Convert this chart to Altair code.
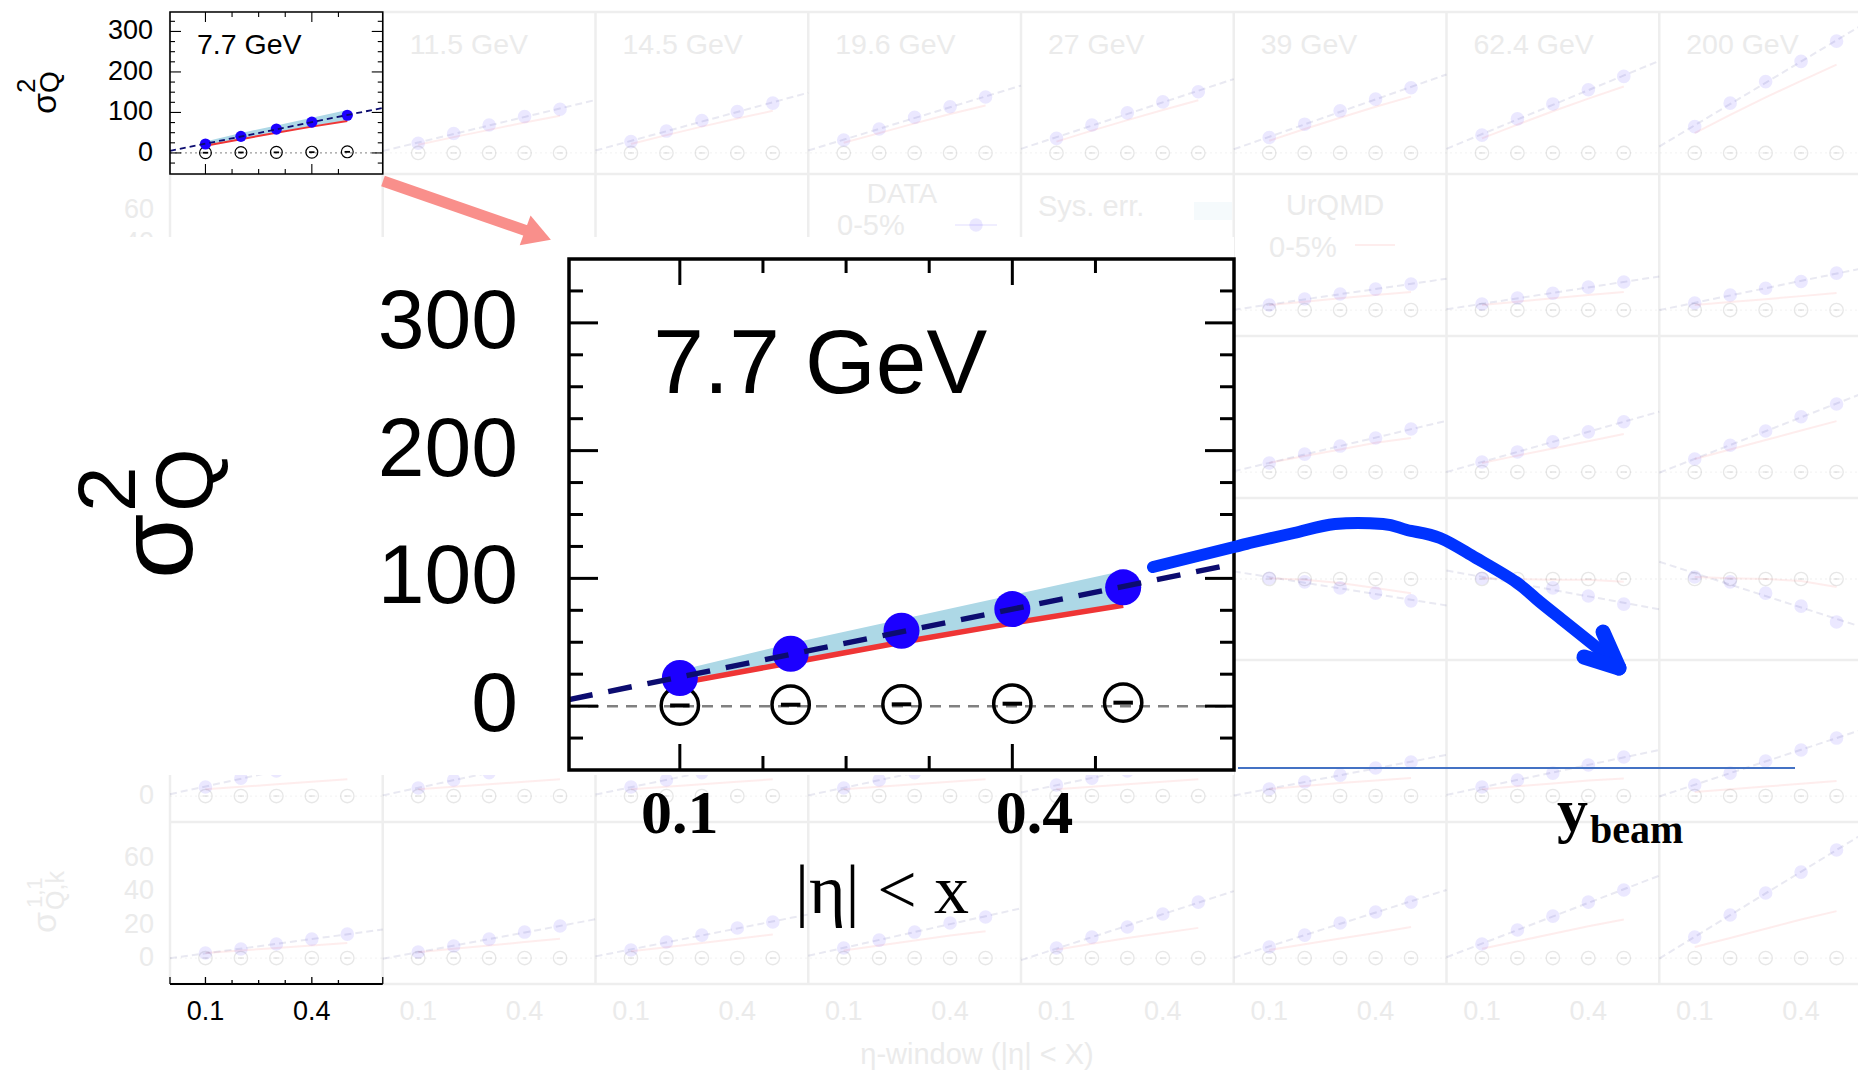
import altair as alt
import pandas as pd

# ------------------------------------------------------------------ data
ETA = [0.1, 0.2, 0.3, 0.4, 0.5]
ENERGY_LABELS = ["7.7 GeV", "11.5 GeV", "14.5 GeV", "19.6 GeV",
                 "27 GeV", "39 GeV", "62.4 GeV", "200 GeV"]

# row 1: sigma^2_Q (DATA 0-5 %), one list per energy
SIG2_DATA = [
    [22, 41, 59, 76, 93],
    [24, 48, 69, 90, 108],
    [28, 54, 80, 102, 123],
    [32, 59, 88, 114, 138],
    [36, 69, 99, 126, 151],
    [38, 71, 104, 133, 161],
    [44, 84, 121, 156, 189],
    [65, 123, 176, 226, 276],
]
SIG2_URQMD = [
    [18, 34, 50, 65, 79],
    [20, 39, 57, 75, 92],
    [22, 44, 65, 85, 104],
    [25, 49, 73, 96, 117],
    [28, 55, 81, 106, 130],
    [30, 59, 87, 114, 139],
    [36, 70, 103, 134, 164],
    [49, 94, 137, 178, 218],
]
SIG2_77_SYS_LO = [19, 35, 51, 66, 80]
SIG2_77_SYS_HI = [28, 49, 68, 87, 106]
SIG2_77_OPEN = [0.5, 1.1, 1.4, 1.9, 2.7]
OPEN_FADED = [0, 0, 0, 0, 0]

# faded rows 2-6 (only the panels that remain visible)
ROW2_COLS = [5, 6, 7]
ROW2_DATA = [[3.0, 6.6, 9.6, 12.5, 15.5],
             [3.6, 7.2, 10.0, 13.7, 16.7],
             [4.2, 9.0, 13.0, 17.0, 22.0]]
ROW2_URQMD = [[3.0, 5.0, 7.0, 9.0, 10.7],
              [3.0, 5.0, 7.0, 9.0, 10.7],
              [3.0, 4.8, 6.5, 8.3, 10.1]]
ROW3_COLS = [5, 6, 7]
ROW3_DATA = [[5.4, 10.7, 15.5, 20.3, 25.7],
             [6.0, 12.0, 18.0, 24.0, 30.0],
             [7.8, 16.0, 24.5, 33.0, 40.6]]
ROW3_URQMD = [[5.4, 9.6, 13.5, 17.5, 20.3],
              [5.4, 9.8, 14.1, 18.4, 22.7],
              [7.8, 13.5, 19.1, 24.8, 30.4]]
ROW4_COLS = [5, 6, 7]
ROW4_DATA = [[0.02, -0.07, -0.22, -0.35, -0.54],
             [0.02, -0.10, -0.22, -0.42, -0.62],
             [0.05, -0.07, -0.35, -0.67, -1.06]]
ROW4_URQMD = [[0.02, -0.02, -0.10, -0.22, -0.35],
              [0.02, 0.00, -0.02, -0.02, -0.07],
              [0.05, 0.02, 0.00, -0.05, -0.20]]
ROW5_COLS = [0, 1, 2, 3, 4, 5, 6, 7]
ROW5_DATA = [[5.4, 10.7, 15.0, 19.5, 24.0],
             [4.8, 9.6, 14.0, 18.5, 23.0],
             [5.4, 9.6, 14.0, 18.5, 23.0],
             [4.8, 9.6, 14.0, 18.5, 23.0],
             [6.6, 10.7, 15.0, 19.5, 24.0],
             [4.2, 8.4, 12.5, 16.7, 20.3],
             [5.4, 9.6, 13.7, 18.5, 23.3],
             [6.6, 13.7, 20.9, 27.5, 34.6]]
ROW5_URQMD = [[4.0, 5.5, 7.0, 8.5, 10.0],
              [4.0, 5.5, 7.0, 8.5, 10.0],
              [4.0, 5.5, 7.0, 8.5, 10.0],
              [4.0, 5.5, 7.0, 8.5, 10.0],
              [4.0, 5.5, 7.0, 8.5, 10.0],
              [4.2, 6.0, 7.8, 9.3, 10.7],
              [4.0, 5.8, 7.5, 9.2, 10.5],
              [2.4, 4.0, 5.7, 7.3, 9.0]]
ROW6_COLS = [0, 1, 2, 3, 4, 5, 6, 7]
ROW6_DATA = [[3.0, 5.4, 8.4, 11.3, 14.3],
             [3.6, 7.2, 11.3, 15.5, 19.1],
             [4.8, 9.6, 13.7, 17.9, 21.5],
             [6.0, 10.7, 15.5, 20.9, 24.5],
             [6.0, 12.5, 18.5, 26.3, 33.4],
             [6.6, 13.7, 20.9, 27.5, 33.4],
             [8.4, 16.7, 25.0, 33.4, 40.6],
             [12.5, 25.7, 38.8, 51.3, 64.5]]
ROW6_URQMD = [[3.0, 4.5, 6.0, 7.5, 9.0],
              [3.5, 5.5, 7.5, 9.5, 11.5],
              [4.0, 6.5, 9.0, 11.5, 14.0],
              [4.5, 7.5, 10.5, 13.5, 16.0],
              [5.0, 8.5, 12.0, 15.0, 18.0],
              [4.8, 8.2, 11.6, 15.0, 18.5],
              [5.5, 10.0, 14.5, 19.0, 23.0],
              [6.6, 12.0, 17.5, 23.0, 28.0]]

Y_TICKS = [-25, 0, 25, 50, 75, 100, 125, 150, 175, 200, 225, 250, 275, 300, 325]
Y_MAJOR = [0, 100, 200, 300]
Y_MAJOR_LABELS = ["0", "100", "200", "300"]
X_TICKS = [0.1, 0.175, 0.25, 0.325, 0.4, 0.475]
X_MAJOR = [0.1, 0.4]
X_MAJOR_LABELS = ["0.1", "0.4"]
BIG_XLABEL_AT = [0.1, 0.42]
SIDE_TICKS = [0, 20, 40, 60]
SIDE_TICK_LABELS = ["0", "20", "40", "60"]

# ------------------------------------------------------------------ layout (page px)
OFF = 8
W, H = 1850, 1064
COL_LEFT = 170.0
COL_W = 212.75
NCOL = 8
ROW_TOPS = [12, 174, 336, 498, 660, 822]
ROW_H = 162
GRID_BOTTOM = 984
ROW_Y_DOMAINS = [[-52, 348], [-15.5, 81.2], [-15.5, 81.2], [-2.0, 2.0],
                 [-15.5, 81.2], [-15.5, 81.2]]
BIG_BOX = (569, 1234, 259, 770)
E_LABEL_AT = (0.076, 245)
MASK = (0, 1234, 237, 775)

RED_ARROW_X = [383, 527]
RED_ARROW_Y = [181, 231]
RED_HEAD_AT = (538, 235)
BLUE_CURVE_X = [1153, 1234, 1254, 1294, 1335, 1383, 1407, 1440, 1476, 1516, 1540, 1565, 1590, 1612]
BLUE_CURVE_Y = [567, 547, 542, 533, 524, 524, 530, 538, 558, 582, 602, 622, 642, 660]
BLUE_HEAD_X = [1603, 1619, 1584, 1619]
BLUE_HEAD_Y = [632, 668, 657, 668]
BLUE_HEAD_SEG = [0, 0, 1, 1]
BEAM_LINE_X = [1238, 1795]
BEAM_LINE_Y = 768

BLUE = "#1c00ff"
NAVY = "#0c0c70"
RED = "#ef3535"
SYS = "#add8e6"
SALMON = "#f98f8b"
ARROW_BLUE = "#0033ff"
BEAM_COLOR = "#4472c4"
FADE = 0.09
FADE_TEXT = "#ebebeb"
GRID = "#eeeeee"
SANS = "Liberation Sans"
SERIF = "Liberation Serif"


# ------------------------------------------------------------------ helpers
def sc(dom, rng):
    return alt.Scale(domain=[float(d) for d in dom], range=[float(r) for r in rng],
                     nice=False, zero=False)


def qx(field, scale):
    return alt.X(field, type="quantitative", scale=scale, axis=None)


def qy(field, scale):
    return alt.Y(field, type="quantitative", scale=scale, axis=None)


CX = sc([0, 1866], [-OFF, 1866 - OFF])
CY = sc([0, 1080], [-OFF, 1080 - OFF])
GX = sc([0, 0.6 * NCOL], [COL_LEFT - OFF, COL_LEFT + NCOL * COL_W - OFF])
SX = sc([0, 0.6], [COL_LEFT - OFF, COL_LEFT + COL_W - OFF])
BX = sc([0, 0.6], [BIG_BOX[0] - OFF, BIG_BOX[1] - OFF])
BIG_YDOM = [-50, 350]
BY = sc(BIG_YDOM, [BIG_BOX[3] - OFF, BIG_BOX[2] - OFF])


def row_scale(r):
    top = ROW_TOPS[r]
    return sc(ROW_Y_DOMAINS[r], [top + ROW_H - OFF, top - OFF])


def canvas_text(items, size, color="black", font=SANS, weight="normal", angle=0, align="left"):
    d = pd.DataFrame(items, columns=["t", "x", "y"])
    kw = dict(fontSize=size, color=color, font=font, fontWeight=weight,
              align=align, baseline="alphabetic")
    if angle:
        kw["angle"] = angle
    return alt.Chart(d).mark_text(**kw).encode(x=qx("x", CX), y=qy("y", CY), text="t:N")


def faded_panels(r, cols, data, red, opens):
    recs = []
    for c, d, u in zip(cols, data, red):
        for e, v, w, o in zip(ETA, d, u, opens):
            recs.append({"col": c, "eta": e, "val": v, "red": w, "opn": o})
    df = pd.DataFrame(recs)
    ys = row_scale(r)
    shift = "datum.eta + 0.6 * datum.col"
    base = alt.Chart(df).transform_calculate(xx=shift)
    zero = pd.DataFrame({"a": [0.0], "b": [0.6 * NCOL], "z": [0.0]})
    return [
        alt.Chart(zero).mark_rule(color="#888888", strokeDash=[2, 3], strokeWidth=1.3, opacity=FADE)
        .encode(x=qx("a", GX), x2="b", y=qy("z", ys)),
        base.mark_line(color=RED, strokeWidth=2, opacity=FADE)
        .encode(x=qx("xx", GX), y=qy("red", ys), detail="col:N"),
        base.mark_point(shape="circle", filled=False, color="black", size=180,
                        strokeWidth=1.3, opacity=FADE)
        .encode(x=qx("xx", GX), y=qy("opn", ys)),
        base.mark_point(shape="stroke", filled=False, color="black", size=36,
                        strokeWidth=1.6, opacity=FADE)
        .encode(x=qx("xx", GX), y=qy("opn", ys)),
        base.mark_circle(color=BLUE, size=185, opacity=FADE)
        .encode(x=qx("xx", GX), y=qy("val", ys)),
        alt.Chart(df).transform_regression("eta", "val", groupby=["col"], extent=[0, 0.6])
        .transform_calculate(xx=shift)
        .mark_line(color=NAVY, strokeWidth=2, strokeDash=[7, 4], opacity=FADE)
        .encode(x=qx("xx", GX), y=qy("val", ys), detail="col:N"),
    ]


def frame_ticks(xs, ys, ydom, st):
    lo, hi = ydom
    out = []
    minor_y = [t for t in Y_TICKS if t not in Y_MAJOR]
    minor_x = [t for t in X_TICKS if t not in X_MAJOR]
    for vals, ln in ((Y_MAJOR, st["ty"][0]), (minor_y, st["ty"][1])):
        d = pd.DataFrame({"v": vals, "l": 0.0, "r": 0.6})
        out.append(alt.Chart(d).mark_tick(orient="horizontal", size=ln, thickness=st["tw"],
                                          color="black", opacity=1, xOffset=ln / 2)
                   .encode(x=qx("l", xs), y=qy("v", ys)))
        out.append(alt.Chart(d).mark_tick(orient="horizontal", size=ln, thickness=st["tw"],
                                          color="black", opacity=1, xOffset=-ln / 2)
                   .encode(x=qx("r", xs), y=qy("v", ys)))
    for vals, ln in ((X_MAJOR, st["tx"][0]), (minor_x, st["tx"][1])):
        d = pd.DataFrame({"v": vals, "b": float(lo), "t": float(hi)})
        out.append(alt.Chart(d).mark_tick(orient="vertical", size=ln, thickness=st["tw"],
                                          color="black", opacity=1, yOffset=-ln / 2)
                   .encode(x=qx("v", xs), y=qy("b", ys)))
        out.append(alt.Chart(d).mark_tick(orient="vertical", size=ln, thickness=st["tw"],
                                          color="black", opacity=1, yOffset=ln / 2)
                   .encode(x=qx("v", xs), y=qy("t", ys)))
    return out


def panel77(xs, ys, ydom, st):
    df = pd.DataFrame({"eta": ETA, "val": SIG2_DATA[0], "red": SIG2_URQMD[0],
                       "lo": SIG2_77_SYS_LO, "hi": SIG2_77_SYS_HI, "opn": SIG2_77_OPEN})
    box = pd.DataFrame({"x0": [0.0], "x1": [0.6], "y0": [float(ydom[0])], "y1": [float(ydom[1])]})
    zero = pd.DataFrame({"a": [0.0], "b": [0.6], "z": [0.0]})
    L = [
        alt.Chart(box).mark_rect(color="white")
        .encode(x=qx("x0", xs), x2="x1", y=qy("y0", ys), y2="y1"),
        alt.Chart(df).mark_area(color=SYS, opacity=1)
        .encode(x=qx("eta", xs), y=qy("lo", ys), y2="hi"),
        alt.Chart(zero).mark_rule(color=st["zc"], strokeDash=st["zd"], strokeWidth=st["zw"])
        .encode(x=qx("a", xs), x2="b", y=qy("z", ys)),
        alt.Chart(df).mark_line(color=RED, strokeWidth=st["rw"])
        .encode(x=qx("eta", xs), y=qy("red", ys)),
        alt.Chart(df).mark_point(shape="circle", filled=False, color="black", size=st["os"],
                                 strokeWidth=st["ow"], opacity=1)
        .encode(x=qx("eta", xs), y=qy("opn", ys)),
        alt.Chart(df).mark_point(shape="stroke", filled=False, color="black", size=st["ds"],
                                 strokeWidth=st["dw"], opacity=1)
        .encode(x=qx("eta", xs), y=qy("opn", ys)),
        alt.Chart(df).mark_circle(color=BLUE, size=st["ps"], opacity=1)
        .encode(x=qx("eta", xs), y=qy("val", ys)),
        alt.Chart(df).transform_regression("eta", "val", extent=[0, 0.6])
        .mark_line(color=NAVY, strokeWidth=st["fw"], strokeDash=st["fd"])
        .encode(x=qx("eta", xs), y=qy("val", ys)),
        alt.Chart(box).mark_rect(filled=False, color="black", strokeWidth=st["bw"])
        .encode(x=qx("x0", xs), x2="x1", y=qy("y0", ys), y2="y1"),
    ]
    L += frame_ticks(xs, ys, ydom, st)
    lab = pd.DataFrame({"v": Y_MAJOR, "t": Y_MAJOR_LABELS, "e": 0.0})
    L.append(alt.Chart(lab).mark_text(align="right", baseline="middle", dx=st["ydx"],
                                      fontSize=st["yfs"], font=SANS, color="black")
             .encode(x=qx("e", xs), y=qy("v", ys), text="t:N"))
    en = pd.DataFrame({"x": [E_LABEL_AT[0]], "y": [float(E_LABEL_AT[1])], "t": [ENERGY_LABELS[0]]})
    L.append(alt.Chart(en).mark_text(align="left", baseline="alphabetic", fontSize=st["efs"],
                                     font=SANS, color="black")
             .encode(x=qx("x", xs), y=qy("y", ys), text="t:N"))
    return L


SMALL = dict(zc="#9a9a9a", zd=[2, 3], zw=1.3, rw=2, os=140, ow=1.2, ds=30, dw=1.8, ps=125,
             fw=1.8, fd=[6, 4], bw=1.6, ty=(11, 5), tx=(10, 5), tw=1.1, ydx=-17, yfs=27, efs=28.5)
BIG = dict(zc="#808080", zd=[11, 8], zw=2.5, rw=5.5, os=1390, ow=3.5, ds=380, dw=4, ps=1300,
           fw=5.5, fd=[24, 16], bw=3.5, ty=(29, 14), tx=(26, 14), tw=3, ydx=-51, yfs=84, efs=91)

layers = []

# ---------------- faded background grid
vgrid = pd.DataFrame({"k": list(range(NCOL + 1)), "y0": float(ROW_TOPS[0]), "y1": float(GRID_BOTTOM)})
layers.append(alt.Chart(vgrid).transform_calculate(xx="0.6 * datum.k")
              .mark_rule(color=GRID, strokeWidth=2.5)
              .encode(x=qx("xx", GX), y=qy("y0", CY), y2="y1"))
hgrid = pd.DataFrame({"y": [float(t) for t in ROW_TOPS] + [float(GRID_BOTTOM)],
                      "a": 0.0, "b": 0.6 * NCOL})
layers.append(alt.Chart(hgrid).mark_rule(color=GRID, strokeWidth=2.5)
              .encode(x=qx("a", GX), x2="b", y=qy("y", CY)))

layers += faded_panels(0, list(range(1, NCOL)), SIG2_DATA[1:], SIG2_URQMD[1:], OPEN_FADED)
layers += faded_panels(1, ROW2_COLS, ROW2_DATA, ROW2_URQMD, OPEN_FADED)
layers += faded_panels(2, ROW3_COLS, ROW3_DATA, ROW3_URQMD, OPEN_FADED)
layers += faded_panels(3, ROW4_COLS, ROW4_DATA, ROW4_URQMD, OPEN_FADED)
layers += faded_panels(4, ROW5_COLS, ROW5_DATA, ROW5_URQMD, OPEN_FADED)
layers += faded_panels(5, ROW6_COLS, ROW6_DATA, ROW6_URQMD, OPEN_FADED)

elab = pd.DataFrame({"col": list(range(1, NCOL)), "t": ENERGY_LABELS[1:], "y": float(E_LABEL_AT[1])})
layers.append(alt.Chart(elab).transform_calculate(xx=f"0.6 * datum.col + {E_LABEL_AT[0]}")
              .mark_text(align="left", baseline="alphabetic", fontSize=28.5, font=SANS, color=FADE_TEXT)
              .encode(x=qx("xx", GX), y=qy("y", row_scale(0)), text="t:N"))

for r in (1, 4, 5):
    side = pd.DataFrame({"v": SIDE_TICKS, "t": SIDE_TICK_LABELS, "x": 154.0})
    layers.append(alt.Chart(side).mark_text(align="right", baseline="middle", fontSize=27,
                                            font=SANS, color=FADE_TEXT)
                  .encode(x=qx("x", CX), y=qy("v", row_scale(r)), text="t:N"))

layers.append(canvas_text([["σ", 56, 933]], 34, FADE_TEXT, angle=270))
layers.append(canvas_text([["Q,k", 64, 910]], 25, FADE_TEXT, angle=270))
layers.append(canvas_text([["1,1", 42, 908]], 22, FADE_TEXT, angle=270))
layers.append(canvas_text([["η-window (|η| < X)", 977, 1064]], 29, FADE_TEXT, align="center"))

# faded legend
layers.append(canvas_text([["DATA", 902, 203]], 28, FADE_TEXT, align="center"))
layers.append(canvas_text([["0-5%", 837, 235], ["Sys. err.", 1038, 216], ["UrQMD", 1286, 215],
                           ["0-5%", 1269, 257]], 29, FADE_TEXT))
leg = pd.DataFrame({"x0": [955.0], "x1": [997.0], "y": [225.0], "xc": [976.0]})
layers.append(alt.Chart(leg).mark_rule(color=BLUE, strokeWidth=1.5, opacity=FADE)
              .encode(x=qx("x0", CX), x2="x1", y=qy("y", CY)))
layers.append(alt.Chart(leg).mark_circle(color=BLUE, size=180, opacity=FADE)
              .encode(x=qx("xc", CX), y=qy("y", CY)))
sysbox = pd.DataFrame({"x0": [1194.0], "x1": [1232.0], "y0": [202.0], "y1": [220.0]})
layers.append(alt.Chart(sysbox).mark_rect(color=SYS, opacity=0.12)
              .encode(x=qx("x0", CX), x2="x1", y=qy("y0", CY), y2="y1"))
redleg = pd.DataFrame({"x0": [1355.0], "x1": [1395.0], "y": [245.0]})
layers.append(alt.Chart(redleg).mark_rule(color=RED, strokeWidth=2, opacity=FADE)
              .encode(x=qx("x0", CX), x2="x1", y=qy("y", CY)))

# ---------------- small (original) 7.7 GeV panel
layers += panel77(SX, row_scale(0), ROW_Y_DOMAINS[0], SMALL)
layers.append(canvas_text([["σ", 56, 114]], 34, angle=270))
layers.append(canvas_text([["2", 35, 93]], 26, angle=270))
layers.append(canvas_text([["Q", 59, 93]], 28, angle=270))

# bottom axis of the first column (black)
r6 = row_scale(5)
lo6 = float(ROW_Y_DOMAINS[5][0])
ax = pd.DataFrame({"a": [0.0], "b": [0.6], "z": [lo6]})
layers.append(alt.Chart(ax).mark_rule(color="black", strokeWidth=2)
              .encode(x=qx("a", SX), x2="b", y=qy("z", r6)))
for vals, ln in (([0.0] + X_MAJOR + [0.6], 7), ([t for t in X_TICKS if t not in X_MAJOR], 4)):
    d = pd.DataFrame({"v": vals, "z": lo6})
    layers.append(alt.Chart(d).mark_tick(orient="vertical", size=ln, thickness=1.3, color="black",
                                         opacity=1, yOffset=-ln / 2)
                  .encode(x=qx("v", SX), y=qy("z", r6)))
blab = pd.DataFrame([{"col": c, "v": v, "t": t} for c in range(NCOL)
                     for v, t in zip(X_MAJOR, X_MAJOR_LABELS)])
blab["z"] = lo6
for flt, colr in (("datum.col == 0", "black"), ("datum.col > 0", FADE_TEXT)):
    layers.append(alt.Chart(blab).transform_filter(flt)
                  .transform_calculate(xx="datum.v + 0.6 * datum.col")
                  .mark_text(align="center", baseline="alphabetic", dy=36, fontSize=27,
                             font=SANS, color=colr)
                  .encode(x=qx("xx", GX), y=qy("z", r6), text="t:N"))

# ---------------- white mask
mask = pd.DataFrame({"x0": [float(MASK[0])], "x1": [float(MASK[1])],
                     "y0": [float(MASK[2])], "y1": [float(MASK[3])]})
layers.append(alt.Chart(mask).mark_rect(color="white")
              .encode(x=qx("x0", CX), x2="x1", y=qy("y0", CY), y2="y1"))

# ---------------- zoomed 7.7 GeV panel
layers += panel77(BX, BY, BIG_YDOM, BIG)
bx = pd.DataFrame({"x": BIG_XLABEL_AT, "t": X_MAJOR_LABELS, "z": float(BIG_YDOM[0])})
layers.append(alt.Chart(bx).mark_text(align="center", baseline="alphabetic", dy=63, fontSize=62,
                                      font=SERIF, fontWeight="bold", color="black")
              .encode(x=qx("x", BX), y=qy("z", BY), text="t:N"))

# ---------------- annotations
layers.append(canvas_text([["σ", 192, 579]], 106, angle=270))
layers.append(canvas_text([["2", 135, 512]], 82, angle=270))
layers.append(canvas_text([["Q", 213, 512]], 82, angle=270))
layers.append(canvas_text([["|η| < x", 795, 913]], 70, font=SERIF))
layers.append(canvas_text([["y", 1557, 831]], 62, font=SERIF, weight="bold"))
layers.append(canvas_text([["beam", 1590, 843]], 40, font=SERIF, weight="bold"))

beam = pd.DataFrame({"x0": [float(BEAM_LINE_X[0])], "x1": [float(BEAM_LINE_X[1])], "y": [float(BEAM_LINE_Y)]})
layers.append(alt.Chart(beam).mark_rule(color=BEAM_COLOR, strokeWidth=2)
              .encode(x=qx("x0", CX), x2="x1", y=qy("y", CY)))

ra = pd.DataFrame({"x": RED_ARROW_X, "y": RED_ARROW_Y})
layers.append(alt.Chart(ra).mark_line(color=SALMON, strokeWidth=11, strokeCap="butt")
              .encode(x=qx("x", CX), y=qy("y", CY)))
rh = pd.DataFrame({"x": [float(RED_HEAD_AT[0])], "y": [float(RED_HEAD_AT[1])]})
layers.append(alt.Chart(rh).mark_point(shape="triangle-right", filled=True, color=SALMON,
                                       size=1000, angle=20, opacity=1)
              .encode(x=qx("x", CX), y=qy("y", CY)))

bc = pd.DataFrame({"x": BLUE_CURVE_X, "y": BLUE_CURVE_Y, "i": list(range(len(BLUE_CURVE_X)))})
layers.append(alt.Chart(bc).mark_line(color=ARROW_BLUE, strokeWidth=12, strokeCap="round",
                                      strokeJoin="round", interpolate="cardinal")
              .encode(x=qx("x", CX), y=qy("y", CY), order="i:Q"))
bh = pd.DataFrame({"x": BLUE_HEAD_X, "y": BLUE_HEAD_Y, "s": BLUE_HEAD_SEG})
layers.append(alt.Chart(bh).mark_line(color=ARROW_BLUE, strokeWidth=15, strokeCap="round",
                                      strokeJoin="round")
              .encode(x=qx("x", CX), y=qy("y", CY), detail="s:N"))

chart = (alt.layer(*layers)
         .resolve_scale(x="independent", y="independent")
         .properties(width=W, height=H, autosize=alt.AutoSizeParams(type="none"),
                     padding=0, background="white")
         .configure_view(strokeWidth=0))

chart.save("out.html", embed_options={"renderer": "svg", "actions": False})
